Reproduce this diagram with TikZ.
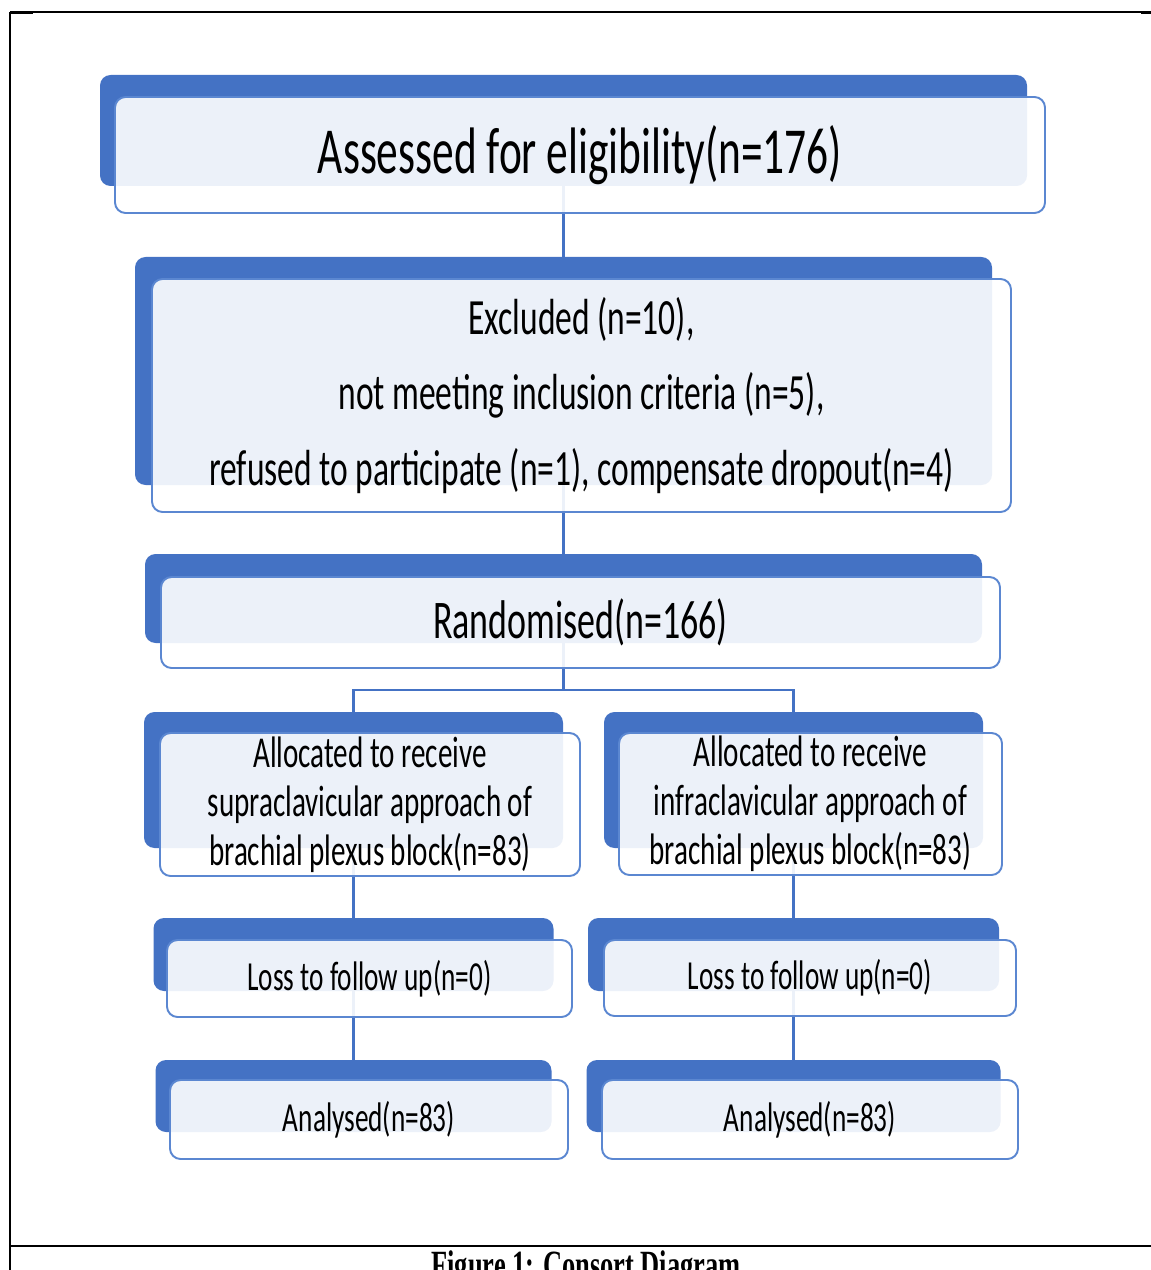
\documentclass[tikz,border=0pt]{standalone}
\usepackage{fontspec}
\setmainfont{Carlito}[FakeStretch=0.66]
\newfontfamily\capfont{Liberation Serif}[FakeStretch=0.66]
\usepackage{xcolor}
\definecolor{cblue}{HTML}{4472C4}
\definecolor{cedge}{HTML}{5B87D1}
\tikzset{
  backbox/.style  = {fill=cblue,rounded corners=6pt,inner sep=0pt},
  frontbox/.style = {draw=cedge,line width=1.1pt,fill=white,fill opacity=0.9,
                     text opacity=1,rounded corners=6pt,align=center,inner sep=0pt},
  boxsize/.style 2 args = {minimum width=#1*0.02cm,minimum height=#2*0.02cm},
  link/.style     = {draw=cblue,line width=1.2pt},
  rule/.style     = {black,line width=#1}
}
\newcommand{\fsz}[2]{\fontsize{#1}{#2}\selectfont}

\begin{document}
\begin{tikzpicture}[x=0.02cm,y=-0.02cm]
  \useasboundingbox (0,0) rectangle (1151,1270);
  \clip (0,0) rectangle (1151,1270);
  \draw[rule=0.85pt] (10,12) -- (1151,12);
  \draw[rule=1.8pt] (10,12.5) -- (33,12.5);
  \draw[rule=1.8pt] (1141,12.5) -- (1151,12.5);
  \draw[rule=1.1pt] (10,12) -- (10,1270);
  \draw[rule=1.4pt] (10,1246) -- (1151,1246);

  \node[backbox,boxsize={927}{111}] (b1)  at (563.5,130.5) {};
  \node[backbox,boxsize={857}{228}] (b2)  at (563.5,371)   {};
  \node[backbox,boxsize={837}{89}]  (b3)  at (563.5,598.5) {};
  \node[backbox,boxsize={419}{136}] (b4l) at (353.5,780)   {};
  \node[backbox,boxsize={379}{136}] (b4r) at (793.5,780)   {};
  \node[backbox,boxsize={400}{73}]  (b5l) at (353.5,954.5) {};
  \node[backbox,boxsize={411}{73}]  (b5r) at (793.5,954.5) {};
  \node[backbox,boxsize={396}{72}]  (b6l) at (353.5,1096)  {};
  \node[backbox,boxsize={414}{72}]  (b6r) at (793.5,1096)  {};

  \coordinate (split) at (563.5,690);
  \draw[link] (b1.south) -- (b2.north);
  \draw[link] (b2.south) -- (b3.north);
  \draw[link] (b3.south) -- (split);
  \draw[link] (b4l.north) |- (split) -| (b4r.north);
  \draw[link] (b4l.south) -- (b5l.north);
  \draw[link] (b4r.south) -- (b5r.north);
  \draw[link] (b5l.south) -- (b6l.north);
  \draw[link] (b5r.south) -- (b6r.north);

  \node[frontbox,boxsize={930}{116},font=\fsz{37.4}{44}] (f1) at (580,155)
    {Assessed for eligibility(n=176)};
  \node[frontbox,boxsize={859}{233},font=\fsz{28.9}{43}] (f2) at (581.5,395.5)
    {Excluded (n=10),\\ not meeting inclusion criteria (n=5),\\
     refused to participate (n=1), compensate dropout(n=4)};
  \node[frontbox,boxsize={839}{91},font=\fsz{31}{37}] (f3) at (580.5,622.5)
    {Randomised(n=166)};
  \node[frontbox,boxsize={420}{143},font=\fsz{25.1}{28}] (f4l) at (370,804.5)
    {Allocated to receive\\ supraclavicular approach of\\ brachial plexus block(n=83)};
  \node[frontbox,boxsize={383}{142},font=\fsz{25.1}{28}] (f4r) at (810.5,804)
    {Allocated to receive\\ infraclavicular approach of\\ brachial plexus block(n=83)};
  \node[frontbox,boxsize={405}{77},font=\fsz{23.5}{28}] (f5l) at (369.5,978.5)
    {Loss to follow up(n=0)};
  \node[frontbox,boxsize={412}{76},font=\fsz{23.5}{28}] (f5r) at (810,978)
    {Loss to follow up(n=0)};
  \node[frontbox,boxsize={398}{79},font=\fsz{23.5}{28}] (f6l) at (369,1119.5)
    {Analysed(n=83)};
  \node[frontbox,boxsize={416}{79},font=\fsz{23.5}{28}] (f6r) at (810,1119.5)
    {Analysed(n=83)};

  \node[anchor=base,inner sep=0pt,font=\capfont\bfseries\fsz{22.8}{27}] (caption)
    at (586,1278) {Figure 1: Consort Diagram};
\end{tikzpicture}
\end{document}
